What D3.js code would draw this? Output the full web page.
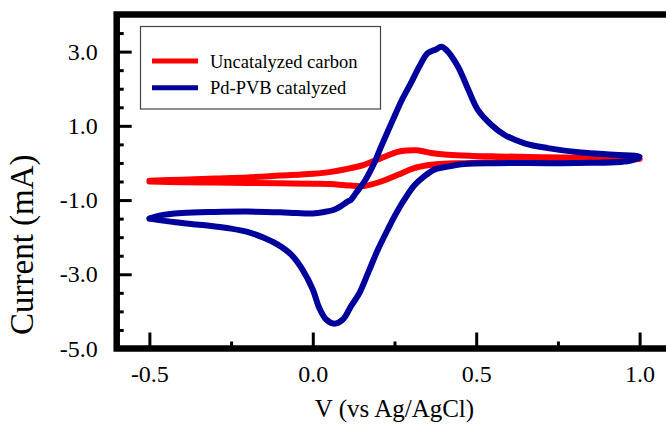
<!DOCTYPE html>
<html>
<head>
<meta charset="utf-8">
<script src="https://cdn.jsdelivr.net/npm/d3@7"></script>
<style>
  body { margin: 0; background: #fff; }
  svg { display: block; font-family: "Liberation Serif", "Times New Roman", serif; }
  svg text { font-family: "Liberation Serif", "Times New Roman", serif; }
</style>
</head>
<body>
<div id="chart"></div>
<script>
// series names + colours
const seriesNames = ["Uncatalyzed carbon", "Pd-PVB catalyzed"];
const seriesColors = ["#ff0000", "#00009c"];

// uncatalyzed carbon: potential (V) and current (mA), one full sweep
const carbonV = [-0.5, -0.4, -0.3, -0.2, -0.1, 0.0, 0.056, 0.10, 0.157, 0.209, 0.26, 0.29, 0.316, 0.34, 0.362, 0.413, 0.49, 0.566, 0.77, 0.974, 1.0,
                 0.97, 0.85, 0.668, 0.55, 0.463, 0.40, 0.362, 0.31, 0.26, 0.209, 0.157, 0.10, 0.056, 0.0, -0.1, -0.2, -0.3, -0.4, -0.5];
const carbonI = [-0.48, -0.45, -0.42, -0.39, -0.34, -0.29, -0.24, -0.17, -0.05, 0.13, 0.30, 0.335, 0.34, 0.31, 0.27, 0.22, 0.19, 0.175, 0.147, 0.13, 0.11,
                 0.09, 0.07, 0.04, 0.02, -0.005, -0.02, -0.05, -0.14, -0.32, -0.50, -0.62, -0.60, -0.57, -0.56, -0.55, -0.54, -0.53, -0.52, -0.50];

// Pd-PVB catalyzed
const pdV = [-0.5, -0.47, -0.40, -0.30, -0.20, -0.10, -0.05, 0.0, 0.035, 0.065, 0.087, 0.105, 0.117, 0.132, 0.158, 0.188, 0.209, 0.245, 0.27, 0.30, 0.326, 0.352, 0.375, 0.393, 0.408, 0.444, 0.474, 0.505, 0.546, 0.586, 0.648, 0.719, 0.821, 0.923, 1.0,
             0.97, 0.80, 0.56, 0.464, 0.413, 0.372, 0.341, 0.311, 0.28, 0.25, 0.229, 0.199, 0.173, 0.143, 0.117, 0.092, 0.066, 0.041, 0.020, 0.0, -0.031, -0.066, -0.107, -0.148, -0.20, -0.25, -0.33, -0.42, -0.5];
const pdI = [-1.50, -1.42, -1.35, -1.32, -1.31, -1.33, -1.35, -1.36, -1.32, -1.26, -1.16, -1.05, -0.99, -0.81, -0.50, 0.0, 0.44, 1.16, 1.65, 2.15, 2.60, 2.96, 3.05, 3.13, 3.05, 2.60, 2.01, 1.43, 1.03, 0.76, 0.53, 0.40, 0.28, 0.22, 0.17,
             0.06, 0.0, -0.005, -0.03, -0.10, -0.18, -0.36, -0.60, -0.99, -1.44, -1.80, -2.34, -2.88, -3.50, -3.86, -4.22, -4.33, -4.22, -3.91, -3.41, -2.88, -2.47, -2.20, -2.02, -1.86, -1.77, -1.68, -1.60, -1.50];

const xMajor = [-0.5, 0.0, 0.5, 1.0];
const xMinor = [-0.25, 0.25, 0.75];
const yMajor = [-5, -3, -1, 1, 3];
const yMinor = [-4.5, -4, -3.5, -2.5, -2, -1.5, -0.5, 0, 0.5, 1.5, 2, 2.5, 3.5];

const xTitle = "V (vs Ag/AgCl)";
const yTitle = "Current (mA)";

const W = 666, H = 428;
const svg = d3.select("#chart").append("svg")
    .attr("width", W)
    .attr("height", H);

const x = d3.scaleLinear().domain([-0.6, 1.1]).range([116.7, 672.3]);
const y = d3.scaleLinear().domain([-5, 4]).range([348.5, 14.5]);

// curves
const series = [
    { name: seriesNames[0], color: seriesColors[0], pts: carbonV.map((v, i) => [v, carbonI[i]]) },
    { name: seriesNames[1], color: seriesColors[1], pts: pdV.map((v, i) => [v, pdI[i]]) }
];

const line = d3.line()
    .x(d => x(d[0]))
    .y(d => y(d[1]))
    .curve(d3.curveCatmullRom.alpha(0.5));

svg.append("g").selectAll("path")
    .data(series)
    .enter()
    .append("path")
    .attr("d", d => line(d.pts))
    .attr("fill", "none")
    .attr("stroke", d => d.color)
    .attr("stroke-width", 6)
    .attr("stroke-linecap", "round")
    .attr("stroke-linejoin", "round");

// axes (ticks point inwards)
const fmt = d => d3.format(".1f")(d).replace("\u2212", "-");

svg.append("g")
    .attr("transform", `translate(${x(-0.6)},0)`)
    .call(d3.axisLeft(y).tickValues(yMajor).tickSize(-15).tickPadding(19).tickFormat(fmt));
svg.append("g")
    .attr("transform", `translate(${x(-0.6)},0)`)
    .call(d3.axisLeft(y).tickValues(yMinor).tickSize(-7).tickFormat(""));

const xAx = svg.append("g")
    .attr("transform", `translate(0,${y(-5)})`)
    .call(d3.axisBottom(x).tickValues(xMajor).tickSize(-16).tickFormat(fmt));
svg.append("g")
    .attr("transform", `translate(0,${y(-5)})`)
    .call(d3.axisBottom(x).tickValues(xMinor).tickSize(-7).tickFormat(""));

svg.selectAll(".domain").remove();
svg.selectAll("g").attr("font-family", null).attr("font-size", null);
svg.selectAll(".tick line").attr("stroke", "#000").attr("stroke-width", 3);
svg.selectAll(".tick text")
    .attr("fill", "#000")
    .style("font-size", "24px");
xAx.selectAll(".tick text").attr("y", 33.5).attr("dy", 0);

// frame
svg.append("rect")
    .attr("x", x(-0.6))
    .attr("y", y(4))
    .attr("width", x(1.1) - x(-0.6))
    .attr("height", y(-5) - y(4))
    .attr("fill", "none")
    .attr("stroke", "#000")
    .attr("stroke-width", 6.5);

// axis titles
svg.append("text")
    .attr("x", (x(-0.6) + x(1.1)) / 2)
    .attr("y", 417)
    .attr("text-anchor", "middle")
    .style("font-size", "25px")
    .text(xTitle);

svg.append("text")
    .attr("transform", "translate(33,335) rotate(-90)")
    .attr("text-anchor", "start")
    .style("font-size", "33px")
    .text(yTitle);

// legend
const lg = svg.append("g");
lg.append("rect")
    .attr("x", 140.5).attr("y", 26.5)
    .attr("width", 240).attr("height", 82.5)
    .attr("fill", "#fff")
    .attr("stroke", "#444")
    .attr("stroke-width", 1.2);

const items = lg.selectAll("g.item")
    .data(series)
    .enter()
    .append("g")
    .attr("class", "item")
    .attr("transform", (d, i) => `translate(0,${61 + i * 26.7})`);
items.append("line")
    .attr("x1", 152).attr("x2", 198)
    .attr("stroke", d => d.color)
    .attr("stroke-width", 5);
items.append("text")
    .attr("x", 210)
    .attr("y", 6.5)
    .style("font-size", "18.5px")
    .text(d => d.name);
</script>
</body>
</html>
